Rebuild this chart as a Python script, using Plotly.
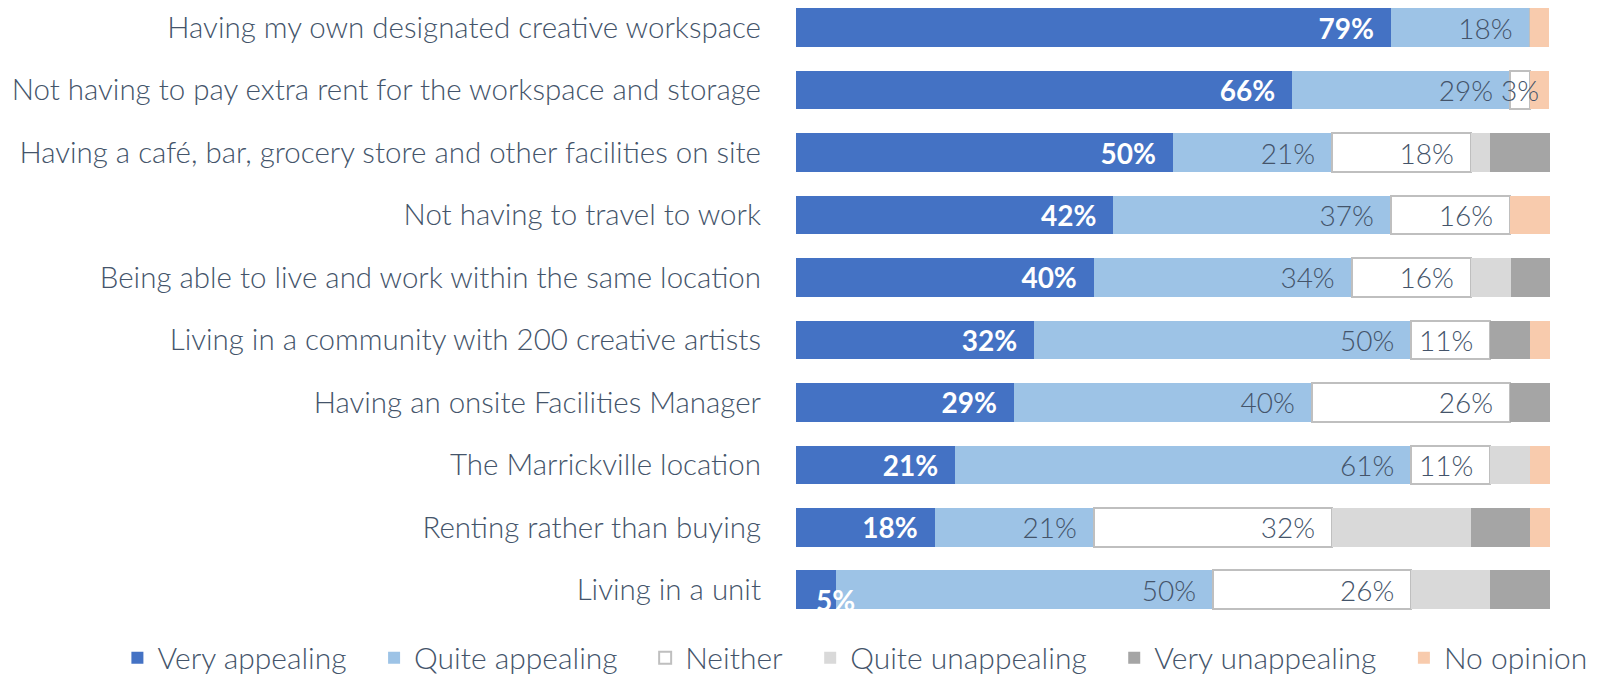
import plotly.graph_objects as go

categories = [
    "Having my own designated creative workspace",
    "Not having to pay extra rent for the workspace and storage",
    "Having a café, bar, grocery store and other facilities on site",
    "Not having to travel to work",
    "Being able to live and work within the same location",
    "Living in a community with 200 creative artists",
    "Having an onsite Facilities Manager",
    "The Marrickville location",
    "Renting rather than buying",
    "Living in a unit",
]

very_appealing = [78.9, 65.8, 50.0, 42.1, 39.5, 31.6, 28.9, 21.1, 18.4, 5.3]
quite_appealing = [18.4, 28.9, 21.1, 36.8, 34.2, 50.0, 39.5, 60.5, 21.1, 50.0]
neither = [0, 2.6, 18.4, 15.8, 15.8, 10.5, 26.3, 10.5, 31.6, 26.3]
quite_unappealing = [0, 0, 2.6, 0, 5.3, 0, 0, 5.3, 18.4, 10.5]
very_unappealing = [0, 0, 7.9, 0, 5.3, 5.3, 5.3, 0, 7.9, 7.9]
no_opinion = [2.6, 2.6, 0, 5.3, 0, 2.6, 0, 2.6, 2.6, 0]

TEXT = "#44546A"
FONT = "Lato Light, Lato"
PAD = "\u2002"

bold = dict(color="white", size=28, family="Lato", weight=700)
light = dict(color=TEXT, size=28, family=FONT, weight=300)
series = [
    ("Very appealing", very_appealing, "#4472C4", None, bold),
    ("Quite appealing", quite_appealing, "#9DC3E6", None, light),
    ("Neither", neither, "white", "#BFBFBF", light),
    ("Quite unappealing", quite_unappealing, "#D9D9D9", None, None),
    ("Very unappealing", very_unappealing, "#A5A5A5", None, None),
    ("No opinion", no_opinion, "#F8CBAD", None, None),
]

fig = go.Figure()
base = [0.0] * len(categories)
for name, vals, color, line, tf in series:
    text = []
    for i, v in enumerate(vals):
        lab = f"{int(v + 0.5)}%"
        if tf is None or v <= 0:
            text.append("")
        elif v < 8:
            # too narrow for an inside label: place it over the segment
            if tf is bold:
                fig.add_annotation(x=base[i] + v, y=categories[i], text=f"<b>{lab}</b>",
                                   showarrow=False, xanchor="center", yshift=-10,
                                   font=tf)
            else:
                fig.add_annotation(x=base[i] + v / 2, y=categories[i], text=lab,
                                   showarrow=False, xanchor="center", font=tf)
            text.append("")
        else:
            text.append(lab + PAD)
    fig.add_trace(go.Bar(
        y=categories, x=vals, name=name + "\u2003", orientation="h",
        marker=dict(color=color,
                    line=dict(color=line if line else color, width=2 if line else 0)),
        text=text, textposition="inside", insidetextanchor="end", textangle=0,
        textfont=tf, constraintext="none", hoverinfo="skip",
    ))
    base = [b + v for b, v in zip(base, vals)]

fig.update_layout(
    barmode="stack",
    bargap=0.38,
    width=1609, height=676,
    margin=dict(l=788, r=67, t=0, b=63, autoexpand=False),
    plot_bgcolor="white", paper_bgcolor="white",
    font=dict(family=FONT, color=TEXT, size=29.5, weight=300),
    uniformtext=dict(mode="show", minsize=26),
    xaxis=dict(range=[0, 100], visible=False, fixedrange=True),
    yaxis=dict(range=[9.5, -0.315], showgrid=False, showline=False, ticks="",
               ticklabelstandoff=34, automargin=False,
               tickfont=dict(size=29.5, color=TEXT, family=FONT, weight=300)),
    legend=dict(orientation="h", xref="paper", yref="paper",
                x=-0.9, xanchor="left", y=-0.06, yanchor="middle",
                font=dict(size=30, color=TEXT, family=FONT, weight=300),
                itemwidth=30, traceorder="normal"),
    showlegend=True,
)

fig.write_html("out.html")
